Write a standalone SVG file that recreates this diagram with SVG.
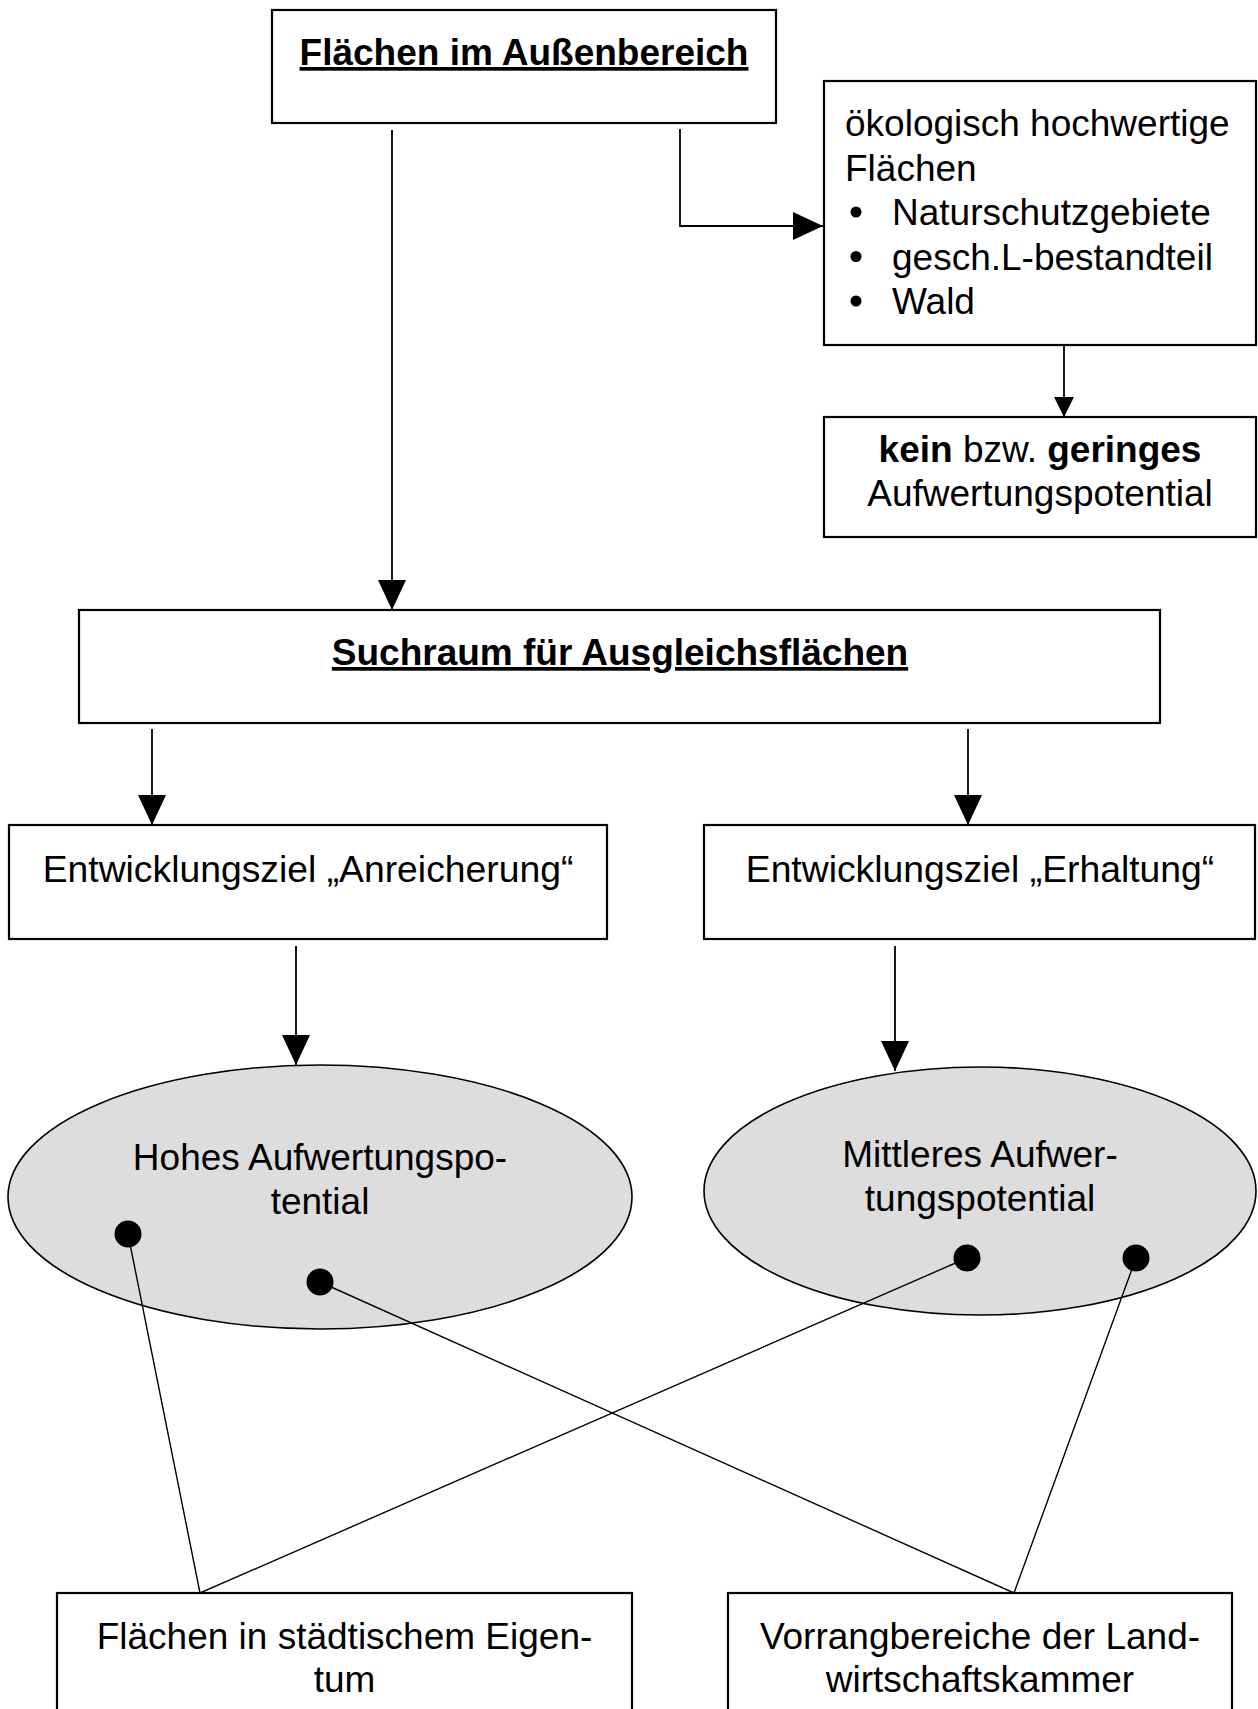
<svg xmlns="http://www.w3.org/2000/svg" width="1258" height="1709" viewBox="0 0 1258 1709">
<style>
.box{fill:#fff;stroke:#000;stroke-width:2.2}
.ell{fill:#dddddd;stroke:#000;stroke-width:1.6}
.t{font-family:"Liberation Sans",Arial,sans-serif;font-size:37px;fill:#000}
.b{font-weight:bold}
.m{text-anchor:middle}
.u{text-decoration:underline}
.c{fill:none;stroke:#000;stroke-width:1.8}
.l{fill:none;stroke:#000;stroke-width:1.4}
</style>
<defs>
<marker id="arr" viewBox="0 0 30 28" refX="30" refY="14" markerWidth="30" markerHeight="28" markerUnits="userSpaceOnUse" orient="auto"><path d="M0,0 L30,14 L0,28 Z" fill="#000"/></marker>
<marker id="arrs" viewBox="0 0 20 20" refX="20" refY="10" markerWidth="20" markerHeight="20" markerUnits="userSpaceOnUse" orient="auto"><path d="M0,0 L20,10 L0,20 Z" fill="#000"/></marker>
</defs>
<g id="connectors">
<path class="c" d="M392,130 V610" marker-end="url(#arr)"/>
<path class="c" d="M680,129 V226 H823" marker-end="url(#arr)"/>
<path class="c" d="M1064,345 V417" marker-end="url(#arrs)"/>
<path class="c" d="M152,729 V825" marker-end="url(#arr)"/>
<path class="c" d="M968,729 V825" marker-end="url(#arr)"/>
<path class="c" d="M296,946 V1065" marker-end="url(#arr)"/>
<path class="c" d="M895,946 V1071" marker-end="url(#arr)"/>
</g>
<g id="n-aussen">
<rect class="box" x="272" y="10" width="504" height="113"/>
<text class="t b m u" x="524" y="65">Flächen im Außenbereich</text>
</g>
<g id="n-oeko">
<rect class="box" x="824" y="81" width="432" height="264"/>
<text class="t" x="845" y="136">ökologisch hochwertige</text>
<text class="t" x="845" y="180.5">Flächen</text>
<circle cx="856" cy="212" r="5.5"/>
<text class="t" x="892" y="225">Naturschutzgebiete</text>
<circle cx="856" cy="256.5" r="5.5"/>
<text class="t" x="892" y="269.5">gesch.L-bestandteil</text>
<circle cx="856" cy="301" r="5.5"/>
<text class="t" x="892" y="314">Wald</text>
</g>
<g id="n-kein">
<rect class="box" x="824" y="417" width="432" height="120"/>
<text class="t m" x="1040" y="462"><tspan class="b">kein</tspan> bzw. <tspan class="b">geringes</tspan></text>
<text class="t m" x="1040" y="506">Aufwertungspotential</text>
</g>
<g id="n-suchraum">
<rect class="box" x="79" y="610" width="1081" height="113"/>
<text class="t b m u" x="620" y="665">Suchraum für Ausgleichsflächen</text>
</g>
<g id="n-anreicherung">
<rect class="box" x="9" y="825" width="598" height="114"/>
<text class="t m" x="308" y="882" style="font-size:37.3px">Entwicklungsziel „Anreicherung“</text>
</g>
<g id="n-erhaltung">
<rect class="box" x="704" y="825" width="551" height="114"/>
<text class="t m" x="980" y="882" style="font-size:37.3px">Entwicklungsziel „Erhaltung“</text>
</g>
<g id="n-hohes">
<ellipse class="ell" cx="320" cy="1197" rx="312" ry="132"/>
<text class="t m" x="320" y="1170">Hohes Aufwertungspo-</text>
<text class="t m" x="320" y="1214">tential</text>
</g>
<g id="n-mittleres">
<ellipse class="ell" cx="980" cy="1191" rx="276" ry="124"/>
<text class="t m" x="980" y="1167">Mittleres Aufwer-</text>
<text class="t m" x="980" y="1211">tungspotential</text>
</g>
<g id="links">
<path class="l" d="M128,1234 L200,1593 L967,1258"/>
<path class="l" d="M320,1282 L1014,1593 L1136,1258"/>
<circle cx="128" cy="1234" r="13.5"/>
<circle cx="320" cy="1282" r="13.5"/>
<circle cx="967" cy="1258" r="13.5"/>
<circle cx="1136" cy="1258" r="13.5"/>
</g>
<g id="n-staedtisch">
<rect class="box" x="57" y="1593" width="575" height="140"/>
<text class="t m" x="344.5" y="1649">Flächen in städtischem Eigen-</text>
<text class="t m" x="344.5" y="1692">tum</text>
</g>
<g id="n-vorrang">
<rect class="box" x="728" y="1593" width="504" height="140"/>
<text class="t m" x="980" y="1649">Vorrangbereiche der Land-</text>
<text class="t m" x="980" y="1692">wirtschaftskammer</text>
</g>
</svg>
